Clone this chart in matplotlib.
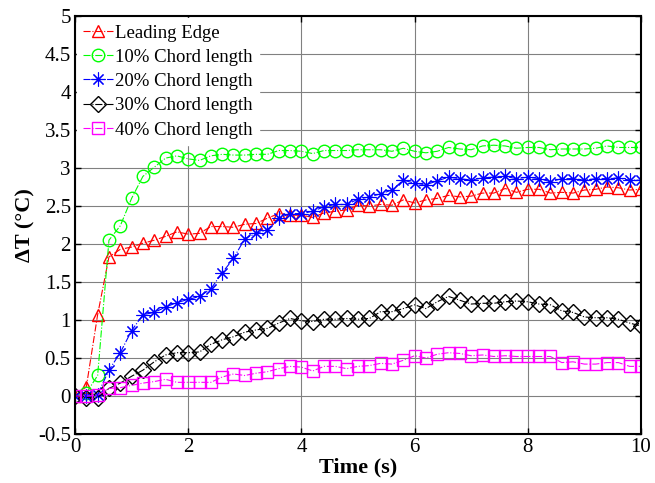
import numpy as np
import matplotlib.pyplot as plt

plt.rcParams['font.family'] = ['Liberation Serif', 'DejaVu Serif']

# time samples every 0.2 s
t = np.round(np.arange(0, 10.01, 0.2), 1)

leading_edge = [0, 0.12, 1.07, 1.83, 1.93, 1.96, 2.01, 2.05, 2.1, 2.16, 2.13, 2.14,
                2.23, 2.23, 2.22, 2.26, 2.27, 2.34, 2.4, 2.38, 2.38, 2.35, 2.41, 2.43,
                2.45, 2.51, 2.5, 2.52, 2.51, 2.58, 2.54, 2.58, 2.6, 2.64, 2.62, 2.63,
                2.67, 2.67, 2.73, 2.68, 2.72, 2.72, 2.67, 2.68, 2.67, 2.71, 2.72, 2.75,
                2.74, 2.71, 2.72]
chord_10 = [0, 0.04, 0.27, 2.05, 2.24, 2.6, 2.89, 3.01, 3.13, 3.16, 3.12, 3.1,
            3.16, 3.18, 3.17, 3.17, 3.18, 3.18, 3.23, 3.23, 3.22, 3.19, 3.23, 3.23,
            3.23, 3.24, 3.24, 3.24, 3.22, 3.26, 3.22, 3.2, 3.22, 3.27, 3.25, 3.24,
            3.29, 3.3, 3.29, 3.26, 3.27, 3.27, 3.24, 3.25, 3.25, 3.25, 3.26, 3.29,
            3.27, 3.27, 3.27]
chord_20 = [0, 0, 0.02, 0.34, 0.57, 0.86, 1.07, 1.1, 1.17, 1.23, 1.27, 1.31,
            1.41, 1.62, 1.81, 2.07, 2.14, 2.19, 2.34, 2.4, 2.4, 2.43, 2.49, 2.52,
            2.52, 2.59, 2.62, 2.66, 2.71, 2.84, 2.8, 2.78, 2.83, 2.88, 2.86, 2.84,
            2.87, 2.88, 2.89, 2.86, 2.88, 2.86, 2.82, 2.86, 2.86, 2.84, 2.86, 2.86,
            2.87, 2.84, 2.84]
chord_30 = [0, -0.02, -0.02, 0.1, 0.17, 0.26, 0.34, 0.45, 0.54, 0.57, 0.57, 0.58,
            0.68, 0.74, 0.78, 0.84, 0.87, 0.89, 0.96, 1.02, 0.99, 0.98, 1.01, 1.01,
            1.02, 1.01, 1.02, 1.11, 1.11, 1.15, 1.2, 1.15, 1.24, 1.31, 1.26, 1.21,
            1.22, 1.22, 1.24, 1.25, 1.24, 1.21, 1.2, 1.12, 1.1, 1.04, 1.03, 1.03,
            1.01, 0.96, 0.92]
chord_40 = [0, 0, 0.01, 0.1, 0.11, 0.14, 0.17, 0.19, 0.22, 0.18, 0.18, 0.18,
            0.18, 0.25, 0.29, 0.27, 0.3, 0.32, 0.36, 0.39, 0.38, 0.33, 0.39, 0.39,
            0.36, 0.39, 0.4, 0.43, 0.42, 0.47, 0.53, 0.5, 0.55, 0.57, 0.56, 0.53,
            0.54, 0.52, 0.53, 0.52, 0.52, 0.52, 0.52, 0.44, 0.45, 0.42, 0.42, 0.44,
            0.44, 0.39, 0.39]

labels = ['Leading Edge', '10% Chord length', '20% Chord length',
          '30% Chord length', '40% Chord length']

fig = plt.figure(figsize=(6.55, 4.83), dpi=100)
ax = fig.add_axes([0.1145, 0.1014, 0.8641, 0.8655])

ms = 9
ax.plot(t, leading_edge, '-.', color='red', marker='^', ms=ms, mfc='none', mew=1.0, lw=0.8, label=labels[0])
ax.plot(t, chord_10, '-.', color='#00ff00', marker='o', ms=ms, mfc='none', mew=1.0, lw=0.8, label=labels[1])
ax.plot(t, chord_20, '-.', color='blue', marker=(8, 2, 0), ms=ms + 1, mew=0.8, lw=0.8, label=labels[2])
ax.plot(t, chord_30, '-.', color='black', marker='D', ms=ms - 1, mfc='none', mew=1.0, lw=0.8, label=labels[3])
ax.plot(t, chord_40, '-.', color='magenta', marker='s', ms=ms - 1, mfc='none', mew=1.0, lw=0.8, label=labels[4])

ax.set_xlim(0, 10)
ax.set_ylim(-0.5, 5)
ax.set_xticks(np.arange(0, 11, 2))
ax.set_yticks(np.arange(-0.5, 5.01, 0.5))
ax.set_yticklabels(['-0.5', '0', '0.5', '1', '1.5', '2', '2.5', '3', '3.5', '4', '4.5', '5'])
ax.grid(True, color='#808080', lw=0.8)
ax.tick_params(direction='in', labelsize=15, top=True, right=True, length=4, width=1, pad=3)
for s in ax.spines.values():
    s.set_linewidth(1.5)

ax.set_xlabel('Time (s)', fontsize=16, fontweight='bold', labelpad=0)
ax.set_ylabel('ΔT (°C)', fontsize=16, fontweight='bold', labelpad=2)

leg = ax.legend(loc='upper left', fontsize=13.5, handlelength=1.6, handletextpad=0.1,
                labelspacing=0.38, borderaxespad=0.1, borderpad=0.35,
                fancybox=False, framealpha=1, edgecolor='white')

fig.savefig('out.png', dpi=100)
